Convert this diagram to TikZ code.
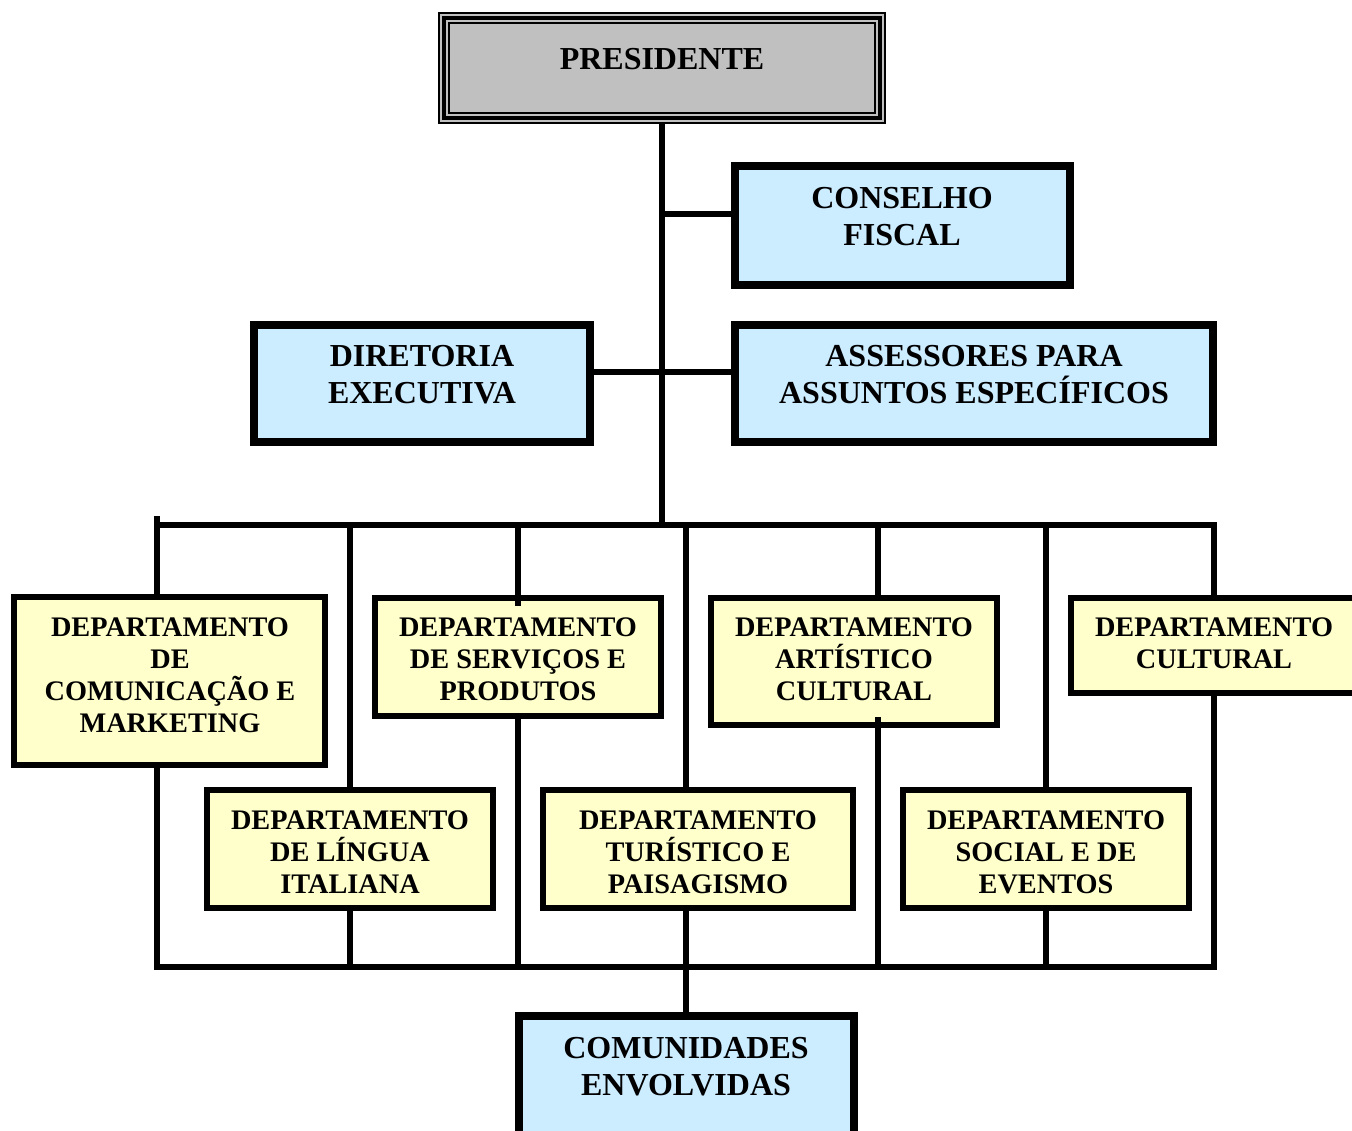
\documentclass[tikz,border=0pt]{standalone}
\usepackage{fontspec}
\setmainfont{Liberation Serif}
\definecolor{presgray}{HTML}{C0C0C0}
\definecolor{blueF}{HTML}{CCECFF}
\definecolor{yelF}{HTML}{FFFFCC}
% keep baselines evenly spaced even when accented capitals stick out
\newcommand\evenlines{\lineskiplimit=-100pt\relax\lineskip=0pt\relax}
\begin{document}
\begin{tikzpicture}[x=1pt,y=-1pt,
  box/.style={draw=black, rectangle, inner sep=0pt, outer sep=0pt},
  presbox/.style={box, fill=presgray, line width=2pt},
  bluebox/.style={box, fill=blueF, line width=8pt},
  yelbox/.style={box, fill=yelF, line width=5.5pt},
  link/.style={line width=6pt, draw=black},
  lbl/.style={anchor=north, align=center, inner sep=0pt,
    font=\bfseries\fontsize{28.3}{32}\selectfont\evenlines},
  biglbl/.style={lbl, font=\bfseries\fontsize{32}{37}\selectfont\evenlines},
]
\path[use as bounding box, clip] (0,0) rectangle (1352,1130);

% --- boxes ---
\node[presbox, minimum width=446pt, minimum height=110pt] (pres) at (662,68) {};
\draw[line width=4pt] ([shift={(5pt,-5pt)}]pres.north west) rectangle ([shift={(-5pt,5pt)}]pres.south east);
\draw[line width=2pt] ([shift={(10pt,-10pt)}]pres.north west) rectangle ([shift={(-10pt,10pt)}]pres.south east);

\node[bluebox, minimum width=335pt, minimum height=119pt] (cons) at (902.5,225.5) {};
\node[bluebox, minimum width=336pt, minimum height=117pt] (dir) at (422,383.5) {};
\node[bluebox, minimum width=478pt, minimum height=117pt] (ass) at (974,383.5) {};
\node[bluebox, minimum width=335pt, minimum height=130pt] (comu) at (686.5,1081) {};

\node[yelbox, minimum width=311pt, minimum height=168pt] (comm) at (169.5,681) {};
\node[yelbox, minimum width=286pt, minimum height=118pt] (serv) at (518,657) {};
\node[yelbox, minimum width=286pt, minimum height=127pt] (art) at (854,661.5) {};
\node[yelbox, minimum width=286pt, minimum height=95pt] (cult) at (1214,645.5) {};
\node[yelbox, minimum width=286pt, minimum height=118pt] (ling) at (350,849) {};
\node[yelbox, minimum width=310pt, minimum height=118pt] (tur) at (698,849) {};
\node[yelbox, minimum width=286pt, minimum height=118pt] (soc) at (1046,849) {};

% --- labels ---
\node[biglbl] (tpres) at (662,43.6) {\strut PRESIDENTE};
\node[biglbl] (tcons) at (902,182.6) {\strut CONSELHO\\\strut FISCAL};
\node[biglbl] (tdir) at (422,340.6) {\strut DIRETORIA\\\strut EXECUTIVA};
\node[biglbl] (tass) at (974,340.6) {\strut ASSESSORES PARA\\\strut ASSUNTOS ESPECÍFICOS};
\node[biglbl] (tcomu) at (686,1032.6) {\strut COMUNIDADES\\\strut ENVOLVIDAS};

\node[lbl] (tcomm) at (170,613.9) {\strut DEPARTAMENTO\\\strut DE\\\strut COMUNICAÇÃO E\\\strut MARKETING};
\node[lbl] (tserv) at (518,613.9) {\strut DEPARTAMENTO\\\strut DE SERVIÇOS E\\\strut PRODUTOS};
\node[lbl] (tart) at (854,613.9) {\strut DEPARTAMENTO\\\strut ARTÍSTICO\\\strut CULTURAL};
\node[lbl] (tcult) at (1214,613.9) {\strut DEPARTAMENTO\\\strut CULTURAL};
\node[lbl] (tling) at (350,806.9) {\strut DEPARTAMENTO\\\strut DE LÍNGUA\\\strut ITALIANA};
\node[lbl] (ttur) at (698,806.9) {\strut DEPARTAMENTO\\\strut TURÍSTICO E\\\strut PAISAGISMO};
\node[lbl] (tsoc) at (1046,806.9) {\strut DEPARTAMENTO\\\strut SOCIAL E DE\\\strut EVENTOS};

% --- junction points of the connector grid ---
\coordinate (tlx) at (157,516);
\coordinate (tl) at (157,525);
\coordinate (tr) at (1214,525);
\coordinate (bl) at (157,967);
\coordinate (br) at (1214,967);
\coordinate (j1) at (662,213.5);
\coordinate (j2) at (662,372);
\coordinate (c2) at (350,525);
\coordinate (c3) at (518,525);
\coordinate (c4) at (686,525);
\coordinate (c5) at (878,525);
\coordinate (c6) at (1046,525);

% --- connectors ---
\draw[link] (pres.south) -- (pres.south |- tl);
\draw[link] (j1) -- (j1 -| cons.west);
\draw[link] (j2 -| dir.east) -- (j2 -| ass.west);

\draw[link] (tlx) -- (tlx |- comm.north);
\draw[link] (tl) -- (tr) -- (cult.north);
\draw[link] (c2) -- (c2 |- ling.north);
\draw[link] (c3) -- ([yshift=-8pt]serv.north);
\draw[link] (c4) -- (c4 |- tur.north);
\draw[link] (c5) -- (c5 |- art.north);
\draw[link] (c6) -- (c6 |- soc.north);

\draw[link] (comm.south -| bl) -- (bl) -- (br) -- (cult.south);
\draw[link] (c2 |- ling.south) -- (c2 |- bl);
\draw[link] (serv.south) -- (serv.south |- bl);
\draw[link] ([yshift=8pt]c5 |- art.south) -- (c5 |- bl);
\draw[link] (c6 |- soc.south) -- (c6 |- bl);
\draw[link] (c4 |- tur.south) -- (c4 |- comu.north);
\end{tikzpicture}
\end{document}
